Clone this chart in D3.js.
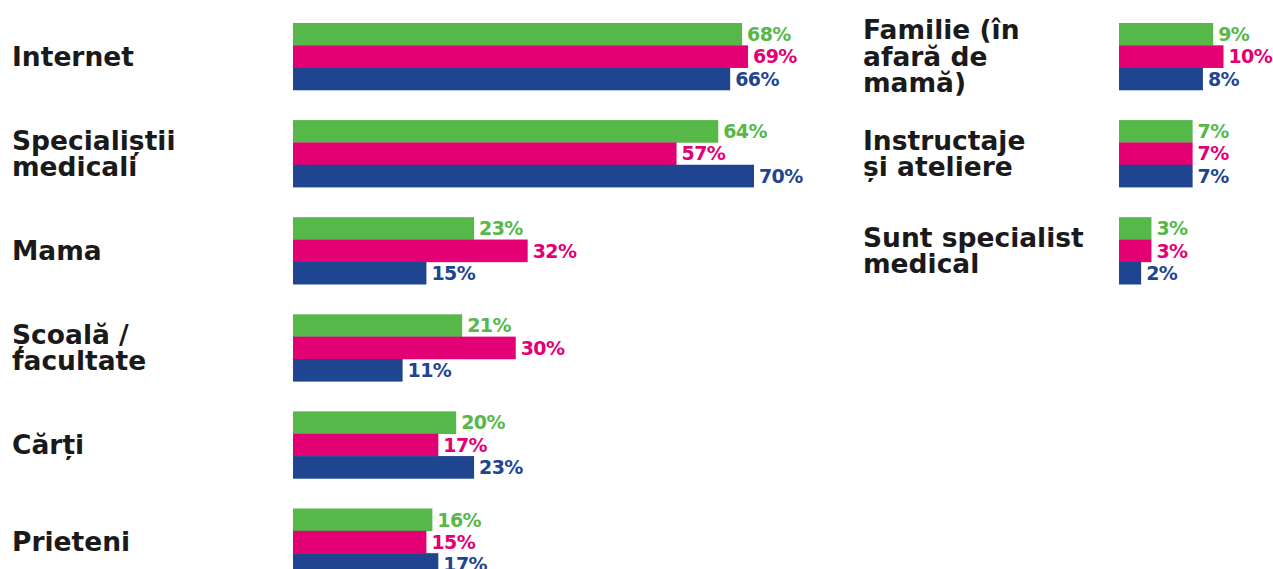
<!DOCTYPE html>
<html>
<head>
<meta charset="utf-8">
<script src="https://cdn.jsdelivr.net/npm/d3@7"></script>
<style>
  body { margin: 0; background: #fff; }
  text { font-family: "DejaVu Sans", sans-serif; font-weight: bold; }
</style>
</head>
<body>
<div id="chart"></div>
<script>
// Data
var leftLabels = [["Internet"], ["Specialiștii", "medicali"], ["Mama"], ["Școală /", "facultate"], ["Cărți"], ["Prieteni"]];
var leftGreen = [68, 64, 23, 21, 20, 16];
var leftPink  = [69, 57, 32, 30, 17, 15];
var leftBlue  = [66, 70, 15, 11, 23, 17];

var rightLabels = [["Familie (în", "afară de", "mamă)"], ["Instructaje", "și ateliere"], ["Sunt specialist", "medical"]];
var rightGreen = [9, 7, 3];
var rightPink  = [10, 7, 3];
var rightBlue  = [8, 7, 2];

var seriesNames = ["green", "pink", "blue"];
var colors = { green: "#55b848", pink: "#e30074", blue: "#1f4591" };

var width = 1273, height = 569;

var svg = d3.select("#chart").append("svg")
  .attr("width", width)
  .attr("height", height);

// group position (same for both panels)
var yGroup = d3.scaleLinear().domain([0, 5]).range([23, 508.5]);
var yInner = d3.scaleBand().domain(seriesNames).range([0, 67]);

// the bars do not start from zero in the original, so the domain starts below 0
var xLeft = d3.scaleLinear().domain([-7.4, 70]).range([293, 754]);
var xRight = d3.scaleLinear().domain([-0.15, 10]).range([1119, 1223.5]);

var labelSize = 26.5, lineH = 26.5, valSize = 19;

function panel(labels, green, pink, blue, xscale, labelX) {
  var rows = labels.map(function(l, i) {
    return { lines: l, vals: { green: green[i], pink: pink[i], blue: blue[i] }, i: i };
  });

  var g = svg.append("g");

  var row = g.selectAll(".row")
    .data(rows)
    .enter()
    .append("g")
    .attr("class", "row")
    .attr("transform", d => "translate(0," + yGroup(d.i) + ")");

  // category labels, centered on the group
  row.each(function(d) {
    var n = d.lines.length;
    var mid = 33;
    d3.select(this).selectAll(".cat")
      .data(d.lines)
      .enter()
      .append("text")
      .attr("class", "cat")
      .attr("x", labelX)
      .attr("y", (t, k) => mid + labelSize * 0.365 + (k - (n - 1) / 2) * lineH)
      .attr("fill", "#1a1a1a")
      .style("font-size", labelSize + "px")
      .text(t => t);
  });

  var x0 = xscale(xscale.domain()[0]);

  row.selectAll("rect")
    .data(d => seriesNames.map(s => ({ s: s, v: d.vals[s] })))
    .enter()
    .append("rect")
    .attr("x", x0)
    .attr("y", d => yInner(d.s))
    .attr("width", d => xscale(d.v) - x0)
    .attr("height", yInner.bandwidth() + 0.3)
    .attr("fill", d => colors[d.s]);

  row.selectAll(".val")
    .data(d => seriesNames.map(s => ({ s: s, v: d.vals[s] })))
    .enter()
    .append("text")
    .attr("class", "val")
    .attr("x", d => xscale(d.v) + 5)
    .attr("y", d => yInner(d.s) + yInner.bandwidth() / 2 + valSize * 0.36)
    .attr("fill", d => colors[d.s])
    .style("font-size", valSize + "px")
    .style("letter-spacing", "-0.6px")
    .text(d => d.v + "%");
}

panel(leftLabels, leftGreen, leftPink, leftBlue, xLeft, 12);
panel(rightLabels, rightGreen, rightPink, rightBlue, xRight, 863);
</script>
</body>
</html>
